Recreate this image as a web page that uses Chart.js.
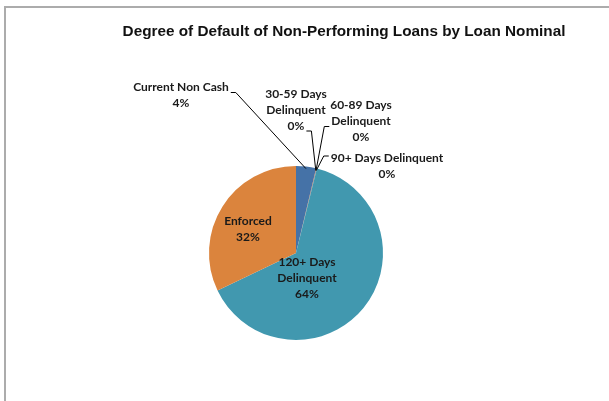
<!DOCTYPE html>
<html>
<head>
<meta charset="utf-8">
<script src="https://cdn.jsdelivr.net/npm/chart.js@4.4.0/dist/chart.umd.min.js"></script>
<style>
html, body { margin: 0; padding: 0; background: #fff; }
#wrap { position: relative; width: 609px; height: 401px; overflow: hidden; }
#frame { position: absolute; left: 4px; top: 6px; width: 700px; height: 500px;
         border-top: 2px solid #acacac; border-left: 2px solid #acacac; }
#chart-box { position: absolute; left: 0; top: 0; width: 609px; height: 401px; }
</style>
</head>
<body>
<div id="wrap">
  <div id="frame"></div>
  <div id="chart-box"><canvas id="chart"></canvas></div>
</div>
<script>
'use strict';

var TITLE = 'Degree of Default of Non-Performing Loans by Loan Nominal';
var categories = ['Current Non Cash', '30-59 Days Delinquent', '60-89 Days Delinquent',
                  '90+ Days Delinquent', '120+ Days Delinquent', 'Enforced'];
var shares = [3.7, 0.05, 0.05, 0.05, 63.8, 32.0];
var sliceColors = ['#4572A7', '#AA4643', '#89A54E', '#71588F', '#4198AF', '#DB843D'];

// where each data label sits, relative to the pie centre (px), and how its leader attaches
var labelLayout = [
    { dx: -115, dy: -157.5, wrap: 130, leader: { line: 0, side: 'right', dy: 5 } },
    { dx: 0,    dy: -143,   wrap: 70,  leader: { line: 2, side: 'right', dy: 5 } },
    { dx: 65,   dy: -131.5, wrap: 70,  leader: { line: 1, side: 'left',  dy: 5 } },
    { dx: 91,   dy: -87,    wrap: 130, leader: { line: 0, side: 'left',  dy: -2 } },
    { dx: 11,   dy: 25,     wrap: 70,  leader: null },
    { dx: -48,  dy: -23.5,  wrap: 70,  leader: null }
];

var LABEL_FONT = 'bold 12px Lato, "Open Sans", sans-serif';
var LINE_H = 16;

function wrapText(ctx, text, maxWidth) {
    var words = text.split(' ');
    var lines = [];
    var cur = '';
    words.forEach(function(w) {
        var test = cur ? cur + ' ' + w : w;
        if (cur && ctx.measureText(test).width > maxWidth) {
            lines.push(cur);
            cur = w;
        } else {
            cur = test;
        }
    });
    if (cur) lines.push(cur);
    return lines;
}

var pieLabels = {
    id: 'pieLabels',
    afterDatasetsDraw: function(chart) {
        var ctx = chart.ctx;
        var meta = chart.getDatasetMeta(0);
        var values = chart.data.datasets[0].data;
        var total = values.reduce(function(a, b) { return a + b; }, 0);

        ctx.save();
        // title
        ctx.font = 'bold 15.3px "Liberation Sans", Arial, sans-serif';
        ctx.fillStyle = '#111';
        ctx.textAlign = 'center';
        ctx.textBaseline = 'middle';
        ctx.fillText(TITLE, 344, 32);

        ctx.font = LABEL_FONT;
        meta.data.forEach(function(arc, i) {
            var p = arc.getProps(['x', 'y', 'startAngle', 'endAngle', 'outerRadius'], true);
            var lay = labelLayout[i];
            var lines = wrapText(ctx, chart.data.labels[i], lay.wrap);
            lines.push(Math.round(values[i] / total * 100) + '%');

            var cx = p.x + lay.dx;
            var top = p.y + lay.dy - (lines.length - 1) * LINE_H / 2;

            ctx.fillStyle = '#1a1a1a';
            ctx.textAlign = 'center';
            ctx.textBaseline = 'middle';
            lines.forEach(function(t, k) {
                ctx.fillText(t, cx, top + k * LINE_H);
            });

            if (lay.leader) {
                var L = lay.leader;
                var ly = top + L.line * LINE_H + L.dy;
                var w = ctx.measureText(lines[L.line]).width;
                var sx = L.side === 'right' ? cx + w / 2 + 2 : cx - w / 2 - 2;
                var ex = L.side === 'right' ? sx + 5 : sx - 5;
                var mid = (p.startAngle + p.endAngle) / 2;
                var r = p.outerRadius - 2;
                ctx.beginPath();
                ctx.moveTo(sx, ly);
                ctx.lineTo(ex, ly);
                ctx.lineTo(p.x + Math.cos(mid) * r, p.y + Math.sin(mid) * r);
                ctx.strokeStyle = '#000';
                ctx.lineWidth = 1;
                ctx.stroke();
            }
        });
        ctx.restore();
    }
};

new Chart(document.getElementById('chart'), {
    type: 'pie',
    data: {
        labels: categories,
        datasets: [{
            data: shares,
            backgroundColor: sliceColors,
            borderWidth: 0,
            hoverOffset: 0
        }]
    },
    options: {
        responsive: true,
        maintainAspectRatio: false,
        animation: false,
        layout: { padding: { left: 209, right: 226, top: 166, bottom: 61 } },
        plugins: {
            legend: { display: false },
            tooltip: { enabled: false },
            title: { display: false }
        }
    },
    plugins: [pieLabels]
});
</script>
</body>
</html>
